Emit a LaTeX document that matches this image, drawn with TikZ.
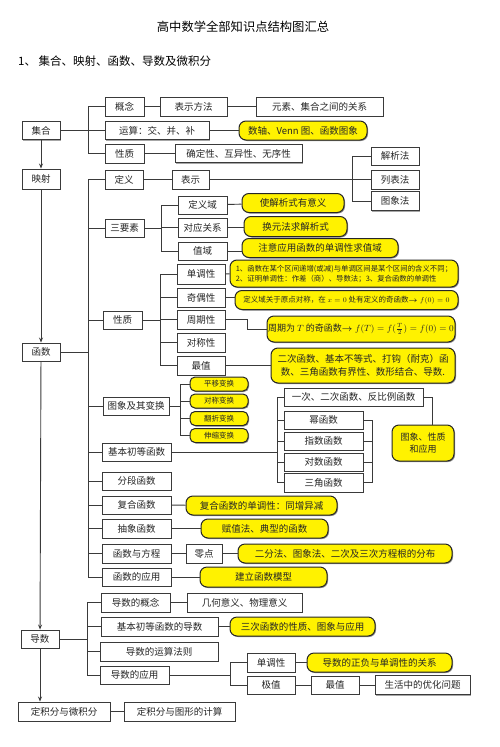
\documentclass[tikz,border=0pt]{standalone}
\usepackage{amsmath}
\usepackage{fontspec}
\setmainfont{Noto Sans CJK SC}
\usetikzlibrary{shadows,arrows.meta}
\definecolor{lnc}{HTML}{3A3A3A}
\tikzset{
  box/.style={draw=lnc,line width=0.9pt,fill=white,inner sep=0pt,
    font=\fontsize{9.5}{11}\selectfont,text=black!85,
    drop shadow={shadow xshift=1pt,shadow yshift=-1pt,fill=black!35,opacity=1}},
  ybx/.style={draw=black!85,line width=1pt,fill=yellow,inner sep=0pt,rounded corners=7pt,
    font=\fontsize{9.5}{11}\selectfont,text=black!85,align=center,
    drop shadow={shadow xshift=1pt,shadow yshift=-1pt,fill=black!45,opacity=1}},
  link/.style={draw=lnc,line width=0.9pt},
  arr/.style={draw=lnc,line width=0.9pt,-{Stealth[length=5pt,width=4pt]}}
}
\newcommand\Bx[6]{\node[box,minimum width=#4,minimum height=#5] (#1) at (#2,#3) {#6};}
\newcommand\Yx[7][]{\node[ybx,minimum width=#5,minimum height=#6,#1] (#2) at (#3,#4) {#7};}
\begin{document}
\begin{tikzpicture}[x=1pt,y=-1pt]
\useasboundingbox (0,0) rectangle (500,747);
\node[font=\fontsize{12.3}{14}\selectfont] (title) at (243,27) {高中数学全部知识点结构图汇总};
\node[font=\fontsize{11.5}{13}\selectfont,anchor=west,inner sep=0pt] (sub) at (18,61) {1、 集合、映射、函数、导数及微积分};
% sets
\Bx{jihe}{41}{130.5}{38}{18}{集合}
\Bx{gainian}{124.5}{106.5}{39}{19}{概念}
\Bx{bsff}{193.5}{106.5}{67}{19}{表示方法}
\Bx{yuansu}{319.5}{106.5}{127}{19}{元素、集合之间的关系}
\Bx{yunsuan}{157}{130.5}{104}{18}{运算：交、并、补}
\Yx{venn}{303}{130.5}{128}{19}{数轴、Venn 图、函数图象}
\Bx{xz1}{124.5}{153.5}{39}{19}{性质}
\Bx{queding}{238.5}{153.5}{127}{18}{确定性、互异性、无序性}
\Bx{yingshe}{41}{179}{38}{20}{映射}
% function
\Bx{dingyi}{124}{179.5}{38}{19}{定义}
\Bx{biaoshi}{190.5}{179.5}{37}{19}{表示}
\Bx{jiexi}{395}{156}{48}{18}{解析法}
\Bx{liebiao}{395}{179.5}{48}{19}{列表法}
\Bx{tuxf}{395}{201}{48}{19}{图象法}
\Bx{sanys}{124.5}{228}{39}{18}{三要素}
\Bx{dyy}{202.5}{205}{49}{18}{定义域}
\Yx{dyyY}{293}{203}{102}{19}{使解析式有意义}
\Bx{duiying}{202.5}{227.5}{49}{19}{对应关系}
\Yx{duiyingY}{295.5}{226.5}{103}{20}{换元法求解析式}
\Bx{zhiyu}{202.5}{251}{49}{18}{值域}
\Yx{zhiyuY}{320}{248}{156}{19}{注意应用函数的单调性求值域}
\Bx{xz2}{122.5}{320}{39}{18}{性质}
\Bx{dandiao}{201}{274}{48}{20}{单调性}
\Yx[font=\fontsize{7.4}{10}\selectfont,align=left]{dandiaoY}{344}{273.5}{228}{27}{1、函数在某个区间递增(或减)与单调区间是某个区间的含义不同；\\2、证明单调性：作差（商）、导数法；3、复合函数的单调性}
\Bx{qiou}{201}{297.5}{48}{19}{奇偶性}
\Yx[font=\fontsize{7.5}{9}\selectfont]{qiouY}{346.5}{300}{223}{19}{定义域关于原点对称，在 $x=0$ 处有定义的奇函数$\boldsymbol{\rightarrow} f(0)=0$}
\Bx{zhouqi}{201}{319.5}{48}{19}{周期性}
\Yx[font=\fontsize{9}{11}\selectfont]{zhouqiY}{361}{329}{188}{26}{周期为 $T$ 的奇函数$\boldsymbol{\rightarrow} f(T)=f(\frac{T}{2})=f(0)=0$}
\Bx{duicheng}{201}{342.5}{48}{19}{对称性}
\Bx{zuizhi}{201}{365.5}{48}{19}{最值}
\Yx[font=\fontsize{9.5}{13}\selectfont]{zuizhiY}{363}{365.5}{184}{35}{二次函数、基本不等式、打钩（耐克）函\\数、三角函数有界性、数形结合、导数.}
\Bx{tuxiang}{136}{406}{66}{18}{图象及其变换}
\Yx[font=\fontsize{7.5}{9}\selectfont,rounded corners=5pt]{pingyi}{219}{384}{58}{14}{平移变换}
\Yx[font=\fontsize{7.5}{9}\selectfont,rounded corners=5pt]{duichbh}{219}{401}{58}{14}{对称变换}
\Yx[font=\fontsize{7.5}{9}\selectfont,rounded corners=5pt]{fanzhe}{219}{418.5}{58}{14}{翻折变换}
\Yx[font=\fontsize{7.5}{9}\selectfont,rounded corners=5pt]{shensuo}{219}{435.5}{58}{14}{伸缩变换}
\Bx{jiben}{136.5}{452}{69}{18}{基本初等函数}
\Bx{yici}{353.5}{397}{139}{18}{一次、二次函数、反比例函数}
\Bx{mi}{323.5}{420}{79}{18}{幂函数}
\Bx{zhishu}{323.5}{441}{79}{18}{指数函数}
\Bx{duishu}{323.5}{462}{79}{18}{对数函数}
\Bx{sanjiao}{323.5}{482.5}{79}{19}{三角函数}
\Yx[font=\fontsize{9}{12}\selectfont]{txY}{423}{443}{62}{36}{图象、性质\\和应用}
\Bx{fenduan}{136.5}{481}{69}{18}{分段函数}
\Bx{fuhe}{136.5}{505}{69}{18}{复合函数}
\Yx{fuheY}{261.5}{505.5}{151}{19}{复合函数的单调性：同增异减}
\Bx{chouxiang}{136.5}{528.5}{69}{19}{抽象函数}
\Yx{chouxiangY}{264.5}{528.5}{127}{19}{赋值法、典型的函数}
\Bx{fangcheng}{136.5}{553.5}{69}{19}{函数与方程}
\Bx{lingdian}{204}{553.5}{36}{19}{零点}
\Yx{erfenY}{345}{553.5}{214}{19}{二分法、图象法、二次及三次方程根的分布}
\Bx{yingyong}{136.5}{577}{69}{18}{函数的应用}
\Yx{moxingY}{263.5}{577}{127}{20}{建立函数模型}
\Bx{hanshu}{41}{352}{38}{18}{函数}
% derivative
\Bx{dgn}{135.5}{602.5}{69}{19}{导数的概念}
\Bx{jhyy}{244.5}{602.5}{115}{19}{几何意义、物理意义}
\Bx{jbd}{159.5}{626.5}{117}{19}{基本初等函数的导数}
\Yx{sancY}{302.5}{626.5}{145}{19}{三次函数的性质、图象与应用}
\Bx{daoshu}{40}{639}{38}{18}{导数}
\Bx{ysfz}{159}{651.5}{118}{19}{导数的运算法则}
\Bx{dsyy}{134.5}{675}{69}{18}{导数的应用}
\Bx{dandiao2}{271}{662.5}{48}{19}{单调性}
\Yx{zfY}{379.5}{662.5}{145}{19}{导数的正负与单调性的关系}
\Bx{jizhi}{271}{685}{48}{18}{极值}
\Bx{zuizhi2}{335}{685}{48}{18}{最值}
\Bx{youhua}{422.5}{685}{95}{19}{生活中的优化问题}
\Bx{djf}{64}{711.5}{92}{19}{定积分与微积分}
\Bx{txjs}{179.5}{711.5}{111}{19}{定积分与图形的计算}
% connectors
\foreach \c in {gainian,yunsuan,xz1} \draw[link] (jihe.east) -- ++(28,0) |- (\c.west);
\draw[link] (gainian) -- (bsff) (bsff) -- (yuansu);
\draw[link] (yunsuan) -- (venn);
\draw[link] (xz1) -- (queding);
\draw[arr] (jihe) -- (yingshe);
\draw[arr] (yingshe) -- (hanshu);
\draw[arr] (hanshu) -- (daoshu);
\draw[arr] (daoshu.south) -- (daoshu.south |- djf.north);
\foreach \c in {dingyi,sanys,xz2,tuxiang,jiben,fenduan,fuhe,chouxiang,fangcheng,yingyong}
  \draw[link] (hanshu.east) -- ++(28,0) |- (\c.west);
\draw[link] (dingyi) -- (biaoshi);
\draw[link] (biaoshi.east) -- (biaoshi.east -| liebiao.west);
\draw[link] (jiexi.west) -- ++(-18,0) |- (tuxf.west);
\foreach \c in {dyy,duiying,zhiyu} \draw[link] (sanys.east) -- ++(17,0) |- (\c.west);
\draw[link] (dyy) -- (dyyY);
\draw[link] (duiying.east) -- (duiying.east -| duiyingY.west);
\draw[link] (zhiyu.east) -- (zhiyu.east -| zhiyuY.west);
\foreach \c in {dandiao,qiou,zhouqi,duicheng,zuizhi} \draw[link] (xz2.east) -- ++(18,0) |- (\c.west);
\draw[link] (dandiao) -- (dandiaoY);
\draw[link] (qiou.east) -- (qiou.east -| qiouY.west);
\draw[link] (zhouqi.east) -- ++(22,0) |- (zhouqiY.west);
\draw[link] (zuizhi) -- (zuizhiY);
\foreach \c in {pingyi,duichbh,fanzhe,shensuo} \draw[link] (tuxiang.east) -- ++(11,0) |- (\c.west);
\foreach \c in {yici,mi,zhishu,duishu,sanjiao} \draw[link] (jiben.east) -- ++(106,0) |- (\c.west);
\draw[link] (mi.east) -- ++(9,0) |- (sanjiao.east);
\draw[link] (zhishu.east) -- ++(9,0);
\draw[link] (duishu.east) -- ++(9,0);
\draw[link] (yici.east) -- ++(9,0) coordinate (yc) -- (yc |- txY.north);
\draw[link] (fuhe) -- (fuheY);
\draw[link] (chouxiang) -- (chouxiangY);
\draw[link] (fangcheng) -- (lingdian);
\draw[link] (lingdian) -- (erfenY);
\draw[link] (yingyong) -- (moxingY);
\foreach \c in {dgn,jbd,ysfz,dsyy} \draw[link] (daoshu.east) -- ++(28,0) |- (\c.west);
\draw[link] (dgn) -- (jhyy);
\draw[link] (jbd) -- (sancY);
\foreach \c in {dandiao2,jizhi} \draw[link] (dsyy.east) -- ++(61,0) |- (\c.west);
\draw[link] (dandiao2) -- (zfY);
\draw[link] (jizhi) -- (zuizhi2);
\draw[link] (zuizhi2) -- (youhua);
\draw[link] (djf) -- (txjs);
\end{tikzpicture}
\end{document}
